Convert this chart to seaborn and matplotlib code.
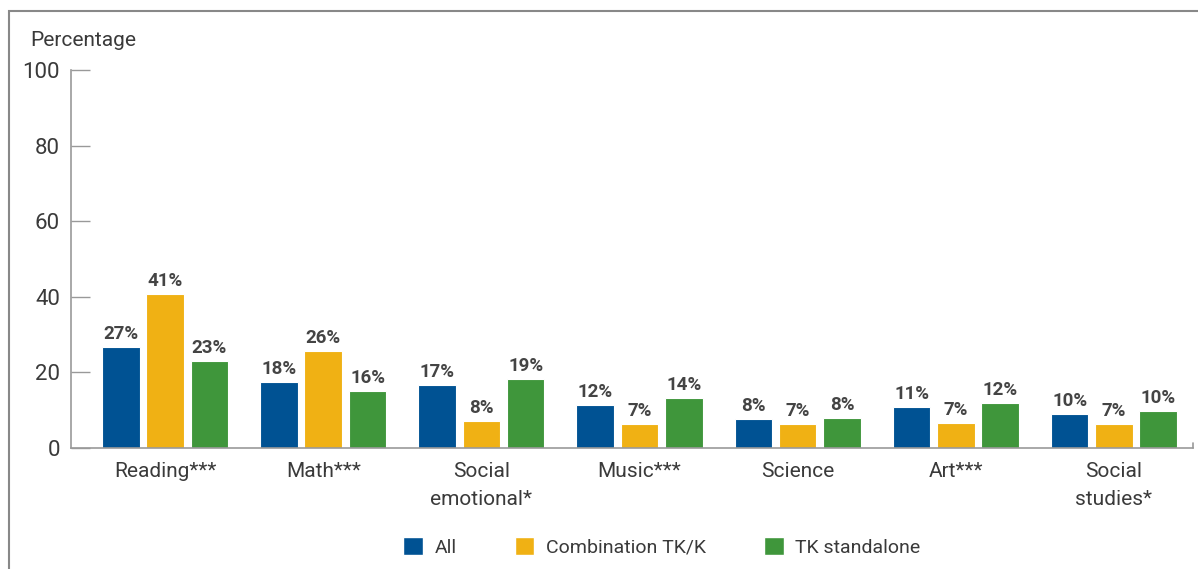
import pandas as pd
import matplotlib.pyplot as plt
import matplotlib.patches as mpatches
from matplotlib import font_manager
import seaborn as sns

# data
subjects = ['Reading***', 'Math***', 'Social\nemotional*', 'Music***',
            'Science', 'Art***', 'Social\nstudies*']
groups = ['All', 'Combination TK/K', 'TK standalone']
all_vals = [26.7, 17.5, 16.7, 11.4, 7.7, 10.8, 9.0]
combo_vals = [40.7, 25.7, 7.1, 6.3, 6.3, 6.6, 6.3]
tk_vals = [23.0, 15.1, 18.3, 13.2, 7.9, 11.9, 9.8]
all_labels = ['27%', '18%', '17%', '12%', '8%', '11%', '10%']
combo_labels = ['41%', '26%', '8%', '7%', '7%', '7%', '7%']
tk_labels = ['23%', '16%', '19%', '14%', '8%', '12%', '10%']

colors = ['#005293', '#F0B114', '#3F963B']

names = {f.name for f in font_manager.fontManager.ttflist}
font = 'Liberation Sans Narrow' if 'Liberation Sans Narrow' in names else 'Roboto'

df = pd.DataFrame({
    'subject': subjects * 3,
    'group': [groups[0]] * 7 + [groups[1]] * 7 + [groups[2]] * 7,
    'value': all_vals + combo_vals + tk_vals,
})

sns.set_style('white')
plt.rcParams['font.family'] = [font, 'DejaVu Sans']

fig = plt.figure(figsize=(11.98, 5.69), dpi=100)
ax = fig.add_axes([71 / 1198, 1 - 448 / 569, (1193 - 71) / 1198, (448 - 70) / 569])

sns.barplot(data=df, x='subject', y='value', hue='group', palette=colors,
            saturation=1, width=0.84, gap=0.15, edgecolor='white', linewidth=0.8,
            legend=False, ax=ax)

for cont, labs in zip(ax.containers, [all_labels, combo_labels, tk_labels]):
    ax.bar_label(cont, labels=labs, padding=3, fontsize=13.5, fontweight='bold',
                 color='#444444')

ax.set_xlim(-0.595, 6.5)
ax.set_ylim(0, 100)
ax.set_yticks([0, 20, 40, 60, 80, 100])
ax.tick_params(axis='y', direction='in', length=14, width=1, color='#999999',
               labelsize=16, labelcolor='#3a3a3a', pad=8, left=True)
ax.tick_params(axis='x', length=0, labelsize=15, labelcolor='#3a3a3a', pad=10)
for lab in ax.get_xticklabels():
    lab.set_linespacing(1.6)
ax.set_xlabel('')
ax.set_ylabel('')
for side in ['top', 'right']:
    ax.spines[side].set_visible(False)
for side in ['left', 'bottom']:
    ax.spines[side].set_color('#999999')
    ax.spines[side].set_linewidth(1.2)
ax.plot([1, 1], [0, 0.012], transform=ax.transAxes, color='#999999', lw=1.2,
        clip_on=False)

fig.text(30 / 1198, 1 - 40 / 569, 'Percentage', fontsize=15, color='#3a3a3a',
         va='center', ha='left')

handles = [mpatches.Patch(facecolor=c, label=g) for c, g in zip(colors, groups)]
fig.legend(handles=handles, loc='center', bbox_to_anchor=(662 / 1198, 1 - 547 / 569),
           ncol=3, frameon=False, fontsize=14, handlelength=1.0, handleheight=1.0,
           columnspacing=3.0, handletextpad=0.6, labelcolor='#3a3a3a')

# outer frame
fig.patches.append(mpatches.Rectangle((9 / 1198, -0.1), 2, 1.1 - 11 / 569,
                                      transform=fig.transFigure, fill=False,
                                      edgecolor='#888888', lw=1.5))

fig.savefig('out.png', dpi=100)
